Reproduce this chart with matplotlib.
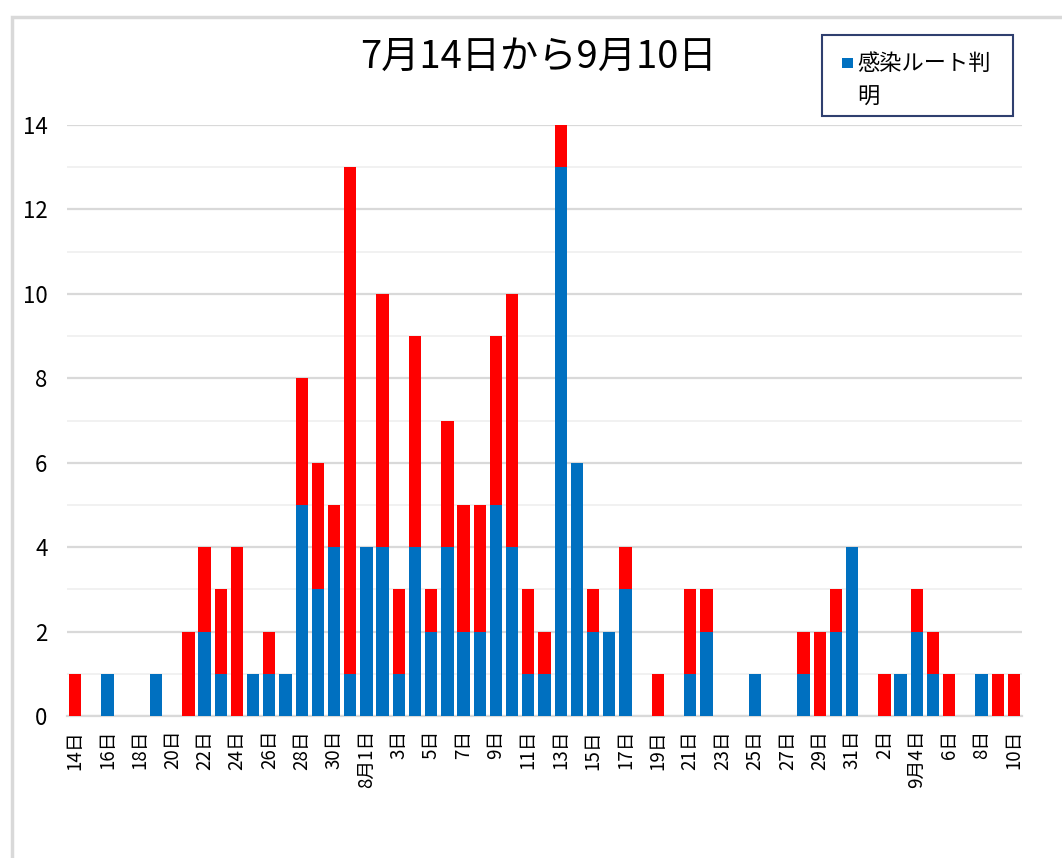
import matplotlib
matplotlib.use("Agg")
import matplotlib.pyplot as plt
from matplotlib.patches import Rectangle

plt.rcParams['font.family'] = ['Noto Sans CJK JP', 'DejaVu Sans']

# Days from 7/14 to 9/10 (59 days)
days = (["7/%d" % d for d in range(14, 32)] +
        ["8/%d" % d for d in range(1, 32)] +
        ["9/%d" % d for d in range(1, 11)])

# 感染ルート判明 (blue)
known = [0, 0, 1, 0, 0, 1, 0, 0, 2, 1, 0, 1, 1, 1, 5, 3, 4, 1,
         4, 4, 1, 4, 2, 4, 2, 2, 5, 4, 1, 1, 13, 6, 2, 2, 3, 0, 0, 0, 1, 2,
         0, 0, 1, 0, 0, 1, 0, 2, 4,
         0, 0, 1, 2, 1, 0, 0, 1, 0, 0]
# 感染ルート不明 (red)
unknown = [1, 0, 0, 0, 0, 0, 0, 2, 2, 2, 4, 0, 1, 0, 3, 3, 1, 12,
           0, 6, 2, 5, 1, 3, 3, 3, 4, 6, 2, 1, 1, 0, 1, 0, 1, 0, 1, 0, 2, 1,
           0, 0, 0, 0, 0, 1, 2, 1, 0,
           0, 1, 0, 1, 1, 1, 0, 0, 1, 1]

tick_labels = ["14日", "16日", "18日", "20日", "22日", "24日", "26日", "28日", "30日",
               "8月1日", "3日", "5日", "7日", "9日", "11日", "13日", "15日", "17日",
               "19日", "21日", "23日", "25日", "27日", "29日", "31日",
               "2日", "9月4日", "6日", "8日", "10日"]

title = "7月14日から9月10日"

BLUE = "#0070C0"
RED = "#FF0000"

W, H = 1062, 858
fig = plt.figure(figsize=(W / 100, H / 100), dpi=100)

# outer chart border
fig.add_artist(Rectangle((12 / W, -0.05), 1.1, 1 - 17 / H + 0.05,
                         transform=fig.transFigure, fill=False,
                         edgecolor="#d9d9d9", linewidth=2.5))

ax = fig.add_axes([67 / W, 1 - 716 / H, (1022 - 67) / W, (716 - 125) / H])
x = list(range(len(days)))
ax.bar(x, known, width=0.76, color=BLUE, zorder=3)
ax.bar(x, unknown, width=0.76, bottom=known, color=RED, zorder=3)

ax.set_xlim(-0.5, len(days) - 0.5)
ax.set_ylim(0, 14)
ax.set_yticks(range(0, 15, 2))
ax.set_yticks(range(1, 15, 2), minor=True)
ax.grid(axis="y", which="major", color="#d9d9d9", linewidth=1.6, zorder=0)
ax.grid(axis="y", which="minor", color="#f0f0f0", linewidth=1.3, zorder=0)
ax.tick_params(axis="y", which="both", length=0, pad=14, labelsize=16)
ax.set_xticks(x[::2])
ax.set_xticklabels(tick_labels, rotation=90, fontsize=13.5)
ax.tick_params(axis="x", length=0, pad=10)
for s in ["top", "right", "left"]:
    ax.spines[s].set_visible(False)
ax.spines["bottom"].set_color("#d9d9d9")
ax.spines["bottom"].set_linewidth(1.6)

fig.text(538 / W, 1 - 57 / H, title, ha="center", va="center", fontsize=27.5)

# legend box
fig.add_artist(Rectangle((822 / W, 1 - 116 / H), (1013 - 822) / W, (116 - 35) / H,
                         transform=fig.transFigure, facecolor="white",
                         edgecolor="#2f3f6f", linewidth=1.5))
fig.add_artist(Rectangle((842 / W, 1 - 68 / H), 11 / W, 10 / H,
                         transform=fig.transFigure, facecolor=BLUE, edgecolor="none"))
fig.text(857 / W, 1 - 63 / H, "感染ルート判", ha="left", va="center", fontsize=16)
fig.text(857 / W, 1 - 97 / H, "明", ha="left", va="center", fontsize=16)

fig.savefig("out.png", dpi=100)
